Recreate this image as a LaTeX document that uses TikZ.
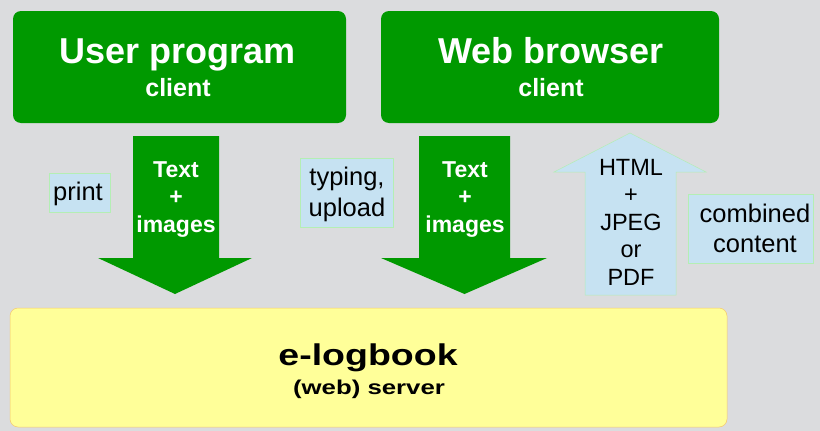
\documentclass[tikz,border=0pt]{standalone}
\usepackage{fontspec}
\usepackage{graphicx}
\setmainfont{Liberation Sans}
\definecolor{bg}{RGB}{219,220,222}
\definecolor{grn}{RGB}{0,153,0}
\definecolor{lblue}{RGB}{198,226,242}
\definecolor{yel}{RGB}{255,255,153}
\definecolor{edgeor}{RGB}{245,200,110}
\definecolor{edgegr}{RGB}{180,238,180}
\tikzset{
  greenbox/.style={rectangle, rounded corners=8pt, fill=grn, inner sep=0pt},
  yelbox/.style={rectangle, rounded corners=8pt, fill=yel, draw=edgeor, line width=0.5pt, inner sep=0pt},
  lbl/.style={rectangle, fill=lblue, draw=edgegr, line width=0.5pt, inner sep=0pt},
  title/.style={anchor=base, inner sep=0pt, text=white, font=\fontsize{36}{43}\selectfont\bfseries},
  subtitle/.style={anchor=base, inner sep=0pt, text=white, font=\fontsize{25}{30}\selectfont\bfseries},
  arrtext/.style={anchor=base, inner sep=0pt, text=white, font=\fontsize{23}{27.5}\selectfont\bfseries},
  uptext/.style={anchor=base, inner sep=0pt, text=black, font=\fontsize{23.5}{27.5}\selectfont},
  lbltext/.style={anchor=base, inner sep=0pt, text=black, font=\fontsize{25.5}{30.5}\selectfont},
  downarrow/.style={fill=grn},
  uparrow/.style={fill=lblue, draw=edgegr, line width=0.5pt},
}
\begin{document}
\begin{tikzpicture}[x=1pt,y=-1pt]
\fill[bg] (0,0) rectangle (820,431);
\useasboundingbox (0,0) rectangle (820,431);

% client boxes
\node[greenbox, minimum width=333pt, minimum height=112pt] (user) at (179.5,67) {};
\node[title] (userT) at (178,63) {User program};
\node[subtitle] (userS) at (178,96) {client};

\node[greenbox, minimum width=338pt, minimum height=112pt] (web) at (550,67) {};
\node[title] (webT) at (551,63) {Web browser};
\node[subtitle] (webS) at (551,96) {client};

% server box
\node[yelbox, minimum width=717pt, minimum height=119pt] (server) at (368.5,367.5) {};
\node[anchor=base, inner sep=0pt, font=\fontsize{30}{36}\selectfont\bfseries] (serverT) at (368,365) {\scalebox{1.25}[1]{e-logbook}};
\node[anchor=base, inner sep=0pt, font=\fontsize{20}{24}\selectfont\bfseries] (serverS) at (369,394.5) {\scalebox{1.29}[1]{(web) server}};

% down arrow 1
\fill[downarrow] (133,136) -- (219,136) -- (219,258) -- (252,258) -- (175,294) -- (98,258) -- (133,258) -- cycle;
\node[arrtext] (a1l1) at (176,177) {Text};
\node[arrtext] (a1l2) at (176,204.5) {+};
\node[arrtext] (a1l3) at (176,232) {images};

% down arrow 2
\fill[downarrow] (419,136) -- (510,136) -- (510,258) -- (547,258) -- (464.5,294) -- (381,258) -- (419,258) -- cycle;
\node[arrtext] (a2l1) at (465,177) {Text};
\node[arrtext] (a2l2) at (465,204.5) {+};
\node[arrtext] (a2l3) at (465,232) {images};

% up arrow
\filldraw[uparrow] (630,133) -- (706,172) -- (676,172) -- (676,295) -- (585,295) -- (585,172) -- (554,172) -- cycle;
\node[uptext] (u1) at (631,175) {HTML};
\node[uptext] (u2) at (631,202.5) {+};
\node[uptext] (u3) at (631,230) {JPEG};
\node[uptext] (u4) at (631,257.5) {or};
\node[uptext] (u5) at (631,285) {PDF};

% labels
\node[lbl, minimum width=61pt, minimum height=39pt] (printbox) at (79.5,192.5) {};
\node[lbltext] (printT) at (78,200) {print};

\node[lbl, minimum width=93pt, minimum height=69pt] (typebox) at (346.5,192.5) {};
\node[lbltext] (typeT1) at (347,185) {typing,};
\node[lbltext] (typeT2) at (347,216) {upload};

\node[lbl, minimum width=125pt, minimum height=69pt] (combbox) at (750.5,228.5) {};
\node[lbltext] (combT1) at (755,222) {combined};
\node[lbltext] (combT2) at (755,252) {content};
\end{tikzpicture}
\end{document}
